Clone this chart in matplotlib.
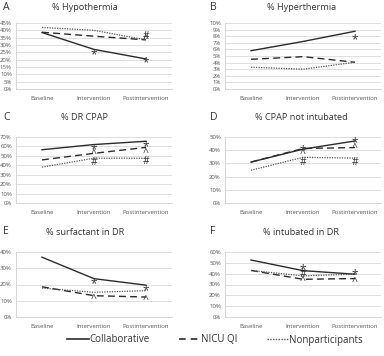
import matplotlib
matplotlib.use("Agg")
import matplotlib.pyplot as plt
from matplotlib.lines import Line2D
from matplotlib.ticker import FuncFormatter, MultipleLocator

plt.rcParams['font.family'] = ['Open Sans', 'DejaVu Sans']

categories = ["Baseline", "Intervention", "Postintervention"]

titles = ["% Hypothermia", "% Hyperthermia", "% DR CPAP",
          "% CPAP not intubated", "% surfactant in DR", "% intubated in DR"]
letters = ["A", "B", "C", "D", "E", "F"]

collaborative = [
    [38.5, 27.0, 20.5],
    [5.8, 7.2, 8.75],
    [56.5, 62.0, 65.5],
    [31.0, 40.8, 47.0],
    [36.8, 23.6, 19.6],
    [52.6, 42.8, 39.5],
]
nicu_qi = [
    [38.7, 36.0, 33.5],
    [4.5, 4.9, 4.05],
    [45.7, 52.7, 59.0],
    [31.0, 41.3, 42.0],
    [18.6, 13.1, 12.3],
    [43.0, 34.8, 35.5],
]
nonparticipants = [
    [42.0, 40.0, 33.5],
    [3.3, 3.0, 4.05],
    [38.0, 47.5, 47.5],
    [24.8, 34.6, 34.0],
    [17.8, 15.2, 16.2],
    [43.0, 38.0, 39.5],
]
y_max = [45, 10, 70, 50, 40, 60]
y_step = [5, 1, 10, 10, 10, 10]

# significance symbols: (panel, category index, symbol, y value)
sig_panel = [0, 0, 0, 0, 1, 2, 2, 2, 2, 2, 2, 3, 3, 3, 3, 3, 3, 4, 4, 4, 4, 5, 5, 5, 5, 5]
sig_cat   = [1, 2, 2, 2, 2, 1, 2, 1, 2, 1, 2, 1, 2, 1, 2, 1, 2, 1, 2, 1, 2, 1, 2, 1, 1, 2]
sig_sym   = ["*", "*", "#", "^", "*", "*", "*", "^", "^", "#", "#", "*", "*", "^", "^", "#", "#",
             "*", "*", "^", "^", "*", "*", "#", "^", "^"]
sig_y     = [26.0, 20.0, 35.5, 33.5, 8.0, 60.5, 63.5, 51.0, 52.0, 43.0, 43.5, 42.5, 48.0, 37.0, 41.0,
             30.5, 30.5, 22.5, 18.5, 11.0, 10.0, 46.5, 42.5, 39.5, 32.5, 31.5]

W, H = 384, 356
fig = plt.figure(figsize=(W / 100, H / 100), dpi=100)

col_left = [16, 225]
row_top = [23, 137, 252]
row_bot = [89, 203, 317]
title_pad = [9, 12, 12]
title_x = [0.44, 0.49]
letter_x = [3, 210]
letter_y = [8, 117, 232]
ax_w = 156

line_color = "#2b2b2b"
axes = []
for i in range(6):
    r, c = divmod(i, 2)
    left = col_left[c] / W
    bottom = 1 - row_bot[r] / H
    height = (row_bot[r] - row_top[r]) / H
    ax = fig.add_axes([left, bottom, ax_w / W, height])
    axes.append(ax)
    x = range(len(categories))
    ax.plot(x, collaborative[i], color=line_color, lw=1.0, ls="-")
    ax.plot(x, nicu_qi[i], color=line_color, lw=1.0, ls=(0, (5, 3)))
    ax.plot(x, nonparticipants[i], color="#555555", lw=0.9, ls=(0, (1, 1)))
    ax.set_xlim(-0.5, 2.5)
    ax.set_ylim(0, y_max[i])
    ax.yaxis.set_major_locator(MultipleLocator(y_step[i]))
    ax.yaxis.set_major_formatter(FuncFormatter(lambda v, p: f"{v:.0f}%"))
    ax.set_xticks(list(x))
    ax.set_xticklabels(categories)
    ax.tick_params(axis="both", length=0, labelsize=4.3, colors="#555555", pad=3)
    ax.tick_params(axis="x", pad=5)
    ax.grid(axis="y", color="#d9d9d9", lw=0.6)
    ax.set_axisbelow(True)
    for s in ["top", "right"]:
        ax.spines[s].set_visible(False)
    ax.spines["left"].set_color("#d0d0d0")
    ax.spines["bottom"].set_color("#d0d0d0")
    ax.spines["left"].set_linewidth(0.6)
    ax.spines["bottom"].set_linewidth(0.6)
    ax.set_title(titles[i], fontsize=6.6, color="#333333", pad=title_pad[r], x=title_x[c])
    fig.text(letter_x[c] / W, 1 - letter_y[r] / H, letters[i], fontsize=7.5, color="#333333",
             ha="left", va="center")

for p, ci, s, yv in zip(sig_panel, sig_cat, sig_sym, sig_y):
    dy = -2.6 if s == "*" else 0.0
    fs = 8.5 if s == "*" else 7.5
    axes[p].annotate(s, (ci, yv), xytext=(0, dy), textcoords="offset points",
                     ha="center", va="center", fontsize=fs, color="#333333")

handles = [
    Line2D([], [], color=line_color, lw=1.2, ls="-"),
    Line2D([], [], color=line_color, lw=1.2, ls=(0, (4, 3))),
    Line2D([], [], color="#555555", lw=1.0, ls=(0, (1, 1))),
]
fig.legend(handles, ["Collaborative", "NICU QI", "Nonparticipants"], loc="center",
           bbox_to_anchor=(0.56, 1 - 340 / H), ncol=3, frameon=False, fontsize=7,
           handlelength=2.2, handletextpad=0.1, columnspacing=3.0, labelcolor="#333333")

fig.savefig("out.png", dpi=100)
